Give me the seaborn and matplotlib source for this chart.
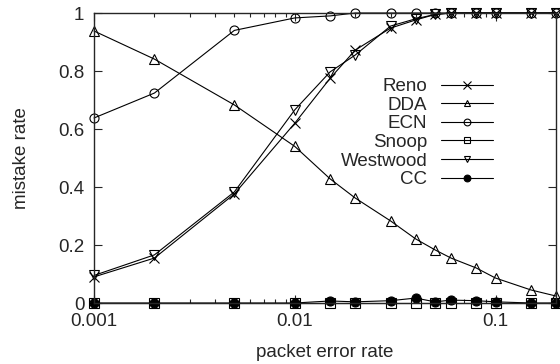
import numpy as np
import matplotlib
matplotlib.use("Agg")
import matplotlib.pyplot as plt
import seaborn as sns

# packet error rates (x)
per = [0.001, 0.002, 0.005, 0.01, 0.015, 0.02, 0.03, 0.04, 0.05, 0.06, 0.08, 0.1, 0.15, 0.2]

reno = [0.09, 0.155, 0.376, 0.62, 0.775, 0.872, 0.948, 0.976, 0.995, 1.0, 1.0, 1.0, 1.0, 1.0]
dda = [0.938, 0.841, 0.683, 0.54, 0.428, 0.362, 0.283, 0.221, 0.183, 0.155, 0.121, 0.086, 0.045, 0.024]
ecn = [0.638, 0.724, 0.94, 0.983, 0.99, 1.0, 1.0, 1.0, 1.0, 1.0, 1.0, 1.0, 1.0, 1.0]
snoop = [0.0] * 14
westwood = [0.095, 0.166, 0.383, 0.666, 0.797, 0.855, 0.955, 0.98, 0.995, 1.0, 1.0, 1.0, 1.0, 1.0]
cc = [0.0, 0.0, 0.0, 0.0, 0.007, 0.004, 0.008, 0.017, 0.004, 0.01, 0.008, 0.004, 0.0, 0.0]

series = [
    ("Reno", reno, "x", False),
    ("DDA", dda, "^", False),
    ("ECN", ecn, "o", False),
    ("Snoop", snoop, "s", False),
    ("Westwood", westwood, "v", False),
    ("CC", cc, "o", True),
]

sns.set_style("ticks")
plt.rcParams["font.family"] = ["Liberation Sans", "DejaVu Sans"]
plt.rcParams["font.size"] = 13.5

fig = plt.figure(figsize=(5.6, 3.64), dpi=100)
ax = fig.add_axes([94 / 560, 1 - 303 / 364, 462 / 560, 290 / 364])

for name, vals, mk, filled in series:
    sns.lineplot(x=per, y=vals, ax=ax, color="black", lw=0.8, marker=mk,
                 markersize=6.5 if mk != "x" else 7,
                 markerfacecolor="black" if filled else "none",
                 markeredgecolor="black", markeredgewidth=0.8,
                 label=name, clip_on=False)

ax.set_xscale("log")
ax.set_xlim(0.001, 0.2)
ax.set_ylim(0, 1)
ax.set_yticks([0, 0.2, 0.4, 0.6, 0.8, 1])
ax.set_yticklabels(["0", "0.2", "0.4", "0.6", "0.8", "1"])
ax.set_xticks([0.001, 0.01, 0.1])
ax.set_xticklabels(["0.001", "0.01", "0.1"])
ax.tick_params(which="both", direction="in", top=True, right=True, width=0.8)
ax.tick_params(which="major", length=6, pad=7)
ax.tick_params(which="minor", length=3)
for s in ax.spines.values():
    s.set_linewidth(1.0)

ax.set_xlabel("packet error rate", labelpad=10)
ax.set_ylabel("mistake rate", labelpad=20)

ax.legend(loc="upper right", bbox_to_anchor=((493 - 94) / 462, (303 - 78) / 290),
          markerfirst=False, frameon=False, borderpad=0, borderaxespad=0,
          handlelength=2.8, handletextpad=0.7, labelspacing=0.08, markerscale=0.75)

fig.savefig("out.png", dpi=100)
